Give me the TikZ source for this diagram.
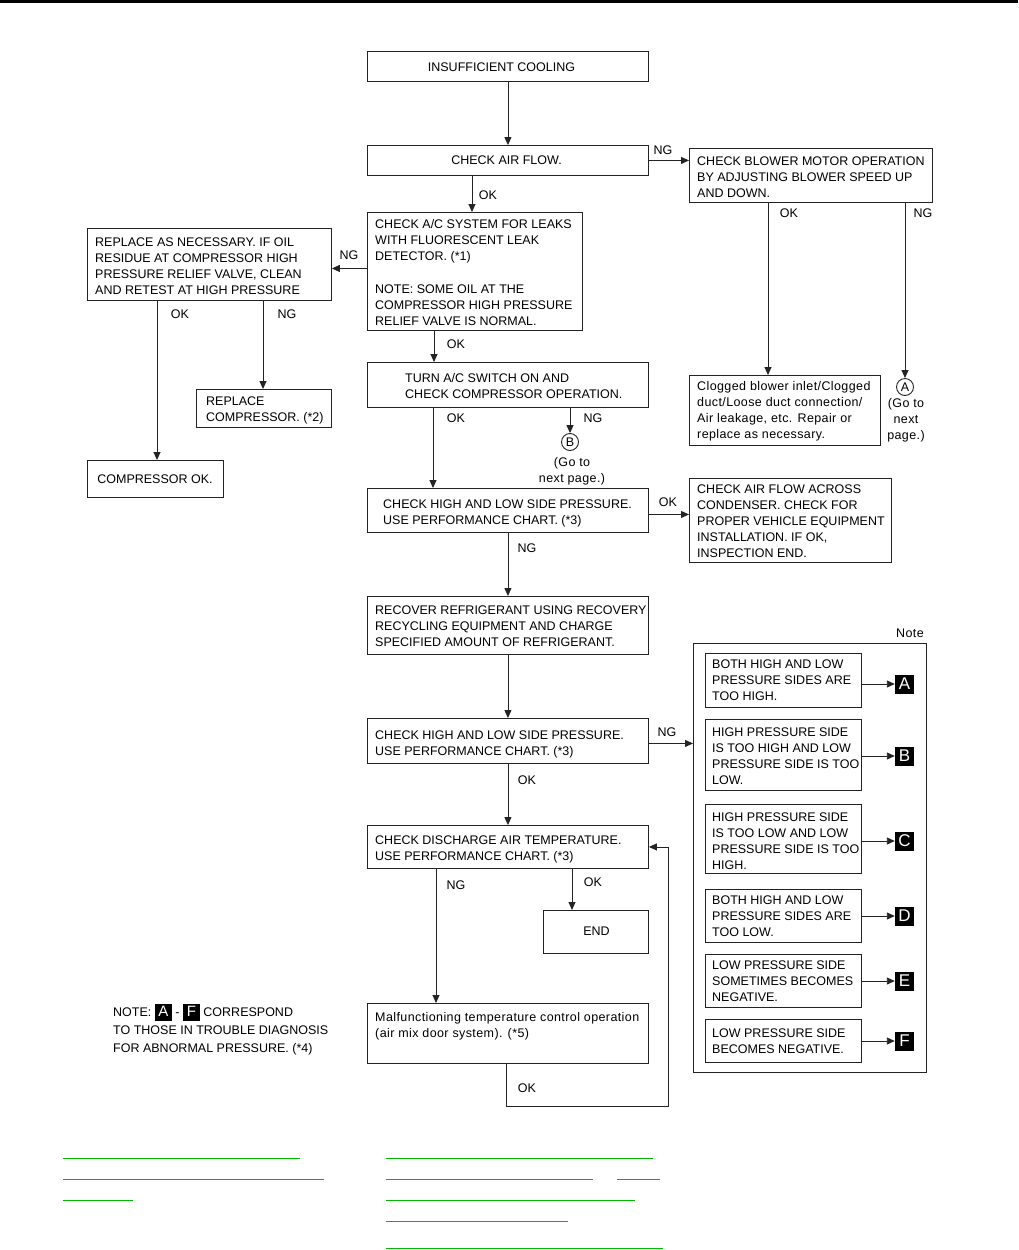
\documentclass[tikz,border=0pt]{standalone}
\usepackage{fontspec}
\setmainfont{Liberation Sans}
\newfontfamily\lcfont[LetterSpace=3.2]{Liberation Sans}
\usetikzlibrary{arrows.meta}
\definecolor{lnk}{RGB}{0,185,0}
\definecolor{ln}{RGB}{35,35,35}
\newcommand\blk[1]{{\setlength\fboxsep{0pt}\colorbox{black}{\makebox[17pt]{\rule[-4pt]{0pt}{17pt}\textcolor{white}{\fontsize{15}{15}\selectfont #1}}}}}
\begin{document}
\begin{tikzpicture}[x=1pt,y=-1pt,
 ff/.style={font=\fontsize{12.5}{16}\selectfont},
 lc/.style={font=\lcfont\fontsize{12.5}{16}\selectfont},
 boxf/.style={draw=ln, line width=0.9pt, inner sep=0, anchor=north west},
 txt/.style={inner sep=0, align=left, anchor=west, ff},
 ctxt/.style={inner sep=0, align=center, anchor=center, ff},
 lab/.style={inner sep=0, anchor=center, ff},
 arr/.style={draw=ln, line width=0.9pt, -{Triangle[length=8pt,width=7pt]}},
 con/.style={draw=ln, line width=0.9pt},
 circ/.style={circle, draw=ln, line width=0.9pt, minimum size=17pt, inner sep=0, ff},
 sq/.style={fill=black, text=white, minimum size=19pt, inner sep=0, font=\fontsize{17}{17}\selectfont},
 glink/.style={draw=lnk, line width=1.5pt}
]
\useasboundingbox (0,0) rectangle (1018,1250);
\fill[black] (0,0) rectangle (1018,3);

% boxes
\node[boxf, minimum width=281pt, minimum height=30pt] (b1) at (367,51) {};
\node[ctxt] (t1) at (501.5,67) {INSUFFICIENT COOLING};
\node[boxf, minimum width=281pt, minimum height=30pt] (b2) at (367,145) {};
\node[ctxt] (t2) at (506.5,160) {CHECK AIR FLOW.};
\node[boxf, minimum width=243pt, minimum height=54pt] (b3) at (689,148) {};
\node[txt] (t3) at (697,177) {CHECK BLOWER MOTOR OPERATION\\BY ADJUSTING BLOWER SPEED UP\\AND DOWN.};
\node[boxf, minimum width=191pt, minimum height=70pt] (b4) at (689,375) {};
\node[txt, lc] (t4) at (697,411.5) {Clogged blower inlet/Clogged\\duct/Loose duct connection/\\Air leakage, etc. Repair or\\replace as necessary.};
\node[circ] (cA) at (905,387) {A};
\node[ctxt, lc] (gA) at (906,420) {(Go to\\next\\page.)};

\node[boxf, minimum width=215pt, minimum height=118pt] (b5) at (367,212) {};
\node[txt] (t5) at (375,272.5) {CHECK A/C SYSTEM FOR LEAKS\\WITH FLUORESCENT LEAK\\DETECTOR. (*1)\\[17pt]NOTE: SOME OIL AT THE\\COMPRESSOR HIGH PRESSURE\\RELIEF VALVE IS NORMAL.};
\node[boxf, minimum width=244pt, minimum height=72pt] (b6) at (87,228) {};
\node[txt] (t6) at (95,266) {REPLACE AS NECESSARY. IF OIL\\RESIDUE AT COMPRESSOR HIGH\\PRESSURE RELIEF VALVE, CLEAN\\AND RETEST AT HIGH PRESSURE};
\node[boxf, minimum width=135pt, minimum height=38pt] (b7) at (196,389) {};
\node[txt] (t7) at (206,410) {REPLACE\\COMPRESSOR. (*2)};
\node[boxf, minimum width=136pt, minimum height=37pt] (b8) at (87,460) {};
\node[ctxt] (t8) at (155,479) {COMPRESSOR OK.};

\node[boxf, minimum width=281pt, minimum height=45pt] (b9) at (367,362) {};
\node[txt] (t9) at (405,386) {TURN A/C SWITCH ON AND\\CHECK COMPRESSOR OPERATION.};
\node[circ] (cB) at (570,442) {B};
\node[ctxt, lc] (gB) at (572,471) {(Go to\\next page.)};

\node[boxf, minimum width=281pt, minimum height=44pt] (b10) at (367,488) {};
\node[txt] (t10) at (383,513) {CHECK HIGH AND LOW SIDE PRESSURE.\\USE PERFORMANCE CHART. (*3)};
\node[boxf, minimum width=202pt, minimum height=84pt] (b11) at (689,478) {};
\node[txt] (t11) at (697,521) {CHECK AIR FLOW ACROSS\\CONDENSER. CHECK FOR\\PROPER VEHICLE EQUIPMENT\\INSTALLATION. IF OK,\\INSPECTION END.};

\node[boxf, minimum width=281pt, minimum height=58pt] (b12) at (367,596) {};
\node[txt] (t12) at (375,626) {RECOVER REFRIGERANT USING RECOVERY\\RECYCLING EQUIPMENT AND CHARGE\\SPECIFIED AMOUNT OF REFRIGERANT.};
\node[boxf, minimum width=281pt, minimum height=45pt] (b13) at (367,718) {};
\node[txt] (t13) at (375,744) {CHECK HIGH AND LOW SIDE PRESSURE.\\USE PERFORMANCE CHART. (*3)};
\node[boxf, minimum width=281pt, minimum height=43pt] (b14) at (367,825) {};
\node[txt] (t14) at (375,849) {CHECK DISCHARGE AIR TEMPERATURE.\\USE PERFORMANCE CHART. (*3)};
\node[boxf, minimum width=105pt, minimum height=43pt] (b15) at (543,910) {};
\node[ctxt] (t15) at (596.5,931) {END};
\node[boxf, minimum width=281pt, minimum height=60pt] (b16) at (367,1003) {};
\node[txt, lc] (t16) at (375,1026) {Malfunctioning temperature control operation\\(air mix door system). (*5)};

% note box
\node[boxf, minimum width=233pt, minimum height=429pt] (note) at (693,643) {};
\node[lab, lc, anchor=east] (notel) at (924,633) {Note};
\node[boxf, minimum width=156pt, minimum height=54pt] (nA) at (705,653) {};
\node[txt] (tA) at (712,680) {BOTH HIGH AND LOW\\PRESSURE SIDES ARE\\TOO HIGH.};
\node[boxf, minimum width=156pt, minimum height=71pt] (nB) at (705,719) {};
\node[txt] (tB) at (712,756) {HIGH PRESSURE SIDE\\IS TOO HIGH AND LOW\\PRESSURE SIDE IS TOO\\LOW.};
\node[boxf, minimum width=156pt, minimum height=69pt] (nC) at (705,804) {};
\node[txt] (tC) at (712,841.5) {HIGH PRESSURE SIDE\\IS TOO LOW AND LOW\\PRESSURE SIDE IS TOO\\HIGH.};
\node[boxf, minimum width=156pt, minimum height=53pt] (nD) at (705,889) {};
\node[txt] (tD) at (712,916) {BOTH HIGH AND LOW\\PRESSURE SIDES ARE\\TOO LOW.};
\node[boxf, minimum width=156pt, minimum height=53pt] (nE) at (705,954) {};
\node[txt] (tE) at (712,981) {LOW PRESSURE SIDE\\SOMETIMES BECOMES\\NEGATIVE.};
\node[boxf, minimum width=156pt, minimum height=43pt] (nF) at (705,1019) {};
\node[txt] (tF) at (712,1041) {LOW PRESSURE SIDE\\BECOMES NEGATIVE.};
\node[sq] (sA) at (904.5,684) {A};
\node[sq] (sB) at (904.5,756) {B};
\node[sq] (sC) at (904.5,841) {C};
\node[sq] (sD) at (904.5,916) {D};
\node[sq] (sE) at (904.5,981) {E};
\node[sq] (sF) at (904.5,1041) {F};
\foreach \s/\n in {sA/nA,sB/nB,sC/nC,sD/nD,sE/nE,sF/nF}
  \draw[arr] (\s.west -| \n.east) -- (\s.west);

% left note
\node[inner sep=0, align=left, anchor=west, font=\fontsize{12.5}{18}\selectfont] (leftnote) at (113,1029.5)
 {NOTE: \blk{A} - \blk{F} CORRESPOND\\TO THOSE IN TROUBLE DIAGNOSIS\\FOR ABNORMAL PRESSURE. (*4)};

% connectors
\draw[arr] (b1.south) -- (b2.north);
\draw[arr] (b2.east) -- (b2.east -| b3.west);
\draw[arr] ([xshift=79pt]b3.south west) -- ([xshift=79pt]b4.north west);
\draw[arr] (cA.north |- b3.south) -- (cA.north);
\draw[arr] ([xshift=105pt]b2.south west) -- ([xshift=105pt]b5.north west);
\draw[arr] ([yshift=3pt]b5.west) -- ([yshift=3pt]b5.west -| b6.east);
\draw[arr] ([xshift=70pt]b6.south west) -- ([xshift=70pt]b8.north west);
\draw[arr] ([xshift=176pt]b6.south west) -- ([xshift=67pt]b7.north west);
\draw[arr] ([xshift=67pt]b5.south west) -- ([xshift=67pt]b9.north west);
\draw[arr] ([xshift=66pt]b9.south west) -- ([xshift=66pt]b10.north west);
\draw[arr] (cB.north |- b9.south) -- (cB.north);
\draw[arr] ([yshift=-4pt]b10.east) -- ([yshift=-4pt]b10.east -| b11.west);
\draw[arr] (b10.south) -- (b12.north);
\draw[arr] (b12.south) -- (b13.north);
\draw[arr] ([yshift=-2.5pt]b13.east) -- ([yshift=-2.5pt]b13.east -| note.west);
\draw[arr] (b13.south) -- (b14.north);
\draw[arr] ([xshift=205pt]b14.south west) -- ([xshift=29pt]b15.north west);
\draw[arr] ([xshift=69pt]b14.south west) -- ([xshift=69pt]b16.north west);
\draw[arr] ([xshift=139pt]b16.south west) -- ++(0,43) -| ([xshift=20pt]b14.east) -- (b14.east);

% labels
\node[lab] (l1) at (663,150) {NG};
\node[lab] (l2) at (488,195) {OK};
\node[lab] (l3) at (789,213) {OK};
\node[lab] (l4) at (923,213) {NG};
\node[lab] (l5) at (349,255) {NG};
\node[lab] (l6) at (180,314) {OK};
\node[lab] (l7) at (287,314) {NG};
\node[lab] (l8) at (456,344) {OK};
\node[lab] (l9) at (456,418) {OK};
\node[lab] (l10) at (593,418) {NG};
\node[lab] (l11) at (668,502) {OK};
\node[lab] (l12) at (527,548) {NG};
\node[lab] (l13) at (667,732) {NG};
\node[lab] (l14) at (527,780) {OK};
\node[lab] (l15) at (456,885) {NG};
\node[lab] (l16) at (593,882) {OK};
\node[lab] (l17) at (527,1088) {OK};

% link underlines
\draw[glink] (63,1158.5) -- (300,1158.5);
\draw[glink] (63,1179.5) -- (324,1179.5);
\draw[glink] (63,1200.5) -- (133,1200.5);
\draw[glink] (386,1158.5) -- (653,1158.5);
\draw[glink] (386,1179.5) -- (593,1179.5);
\draw[glink] (617,1179.5) -- (660,1179.5);
\draw[glink] (386,1200.5) -- (635,1200.5);
\draw[glink] (386,1221.5) -- (568,1221.5);
\draw[glink] (386,1248.5) -- (663,1248.5);
\end{tikzpicture}
\end{document}
